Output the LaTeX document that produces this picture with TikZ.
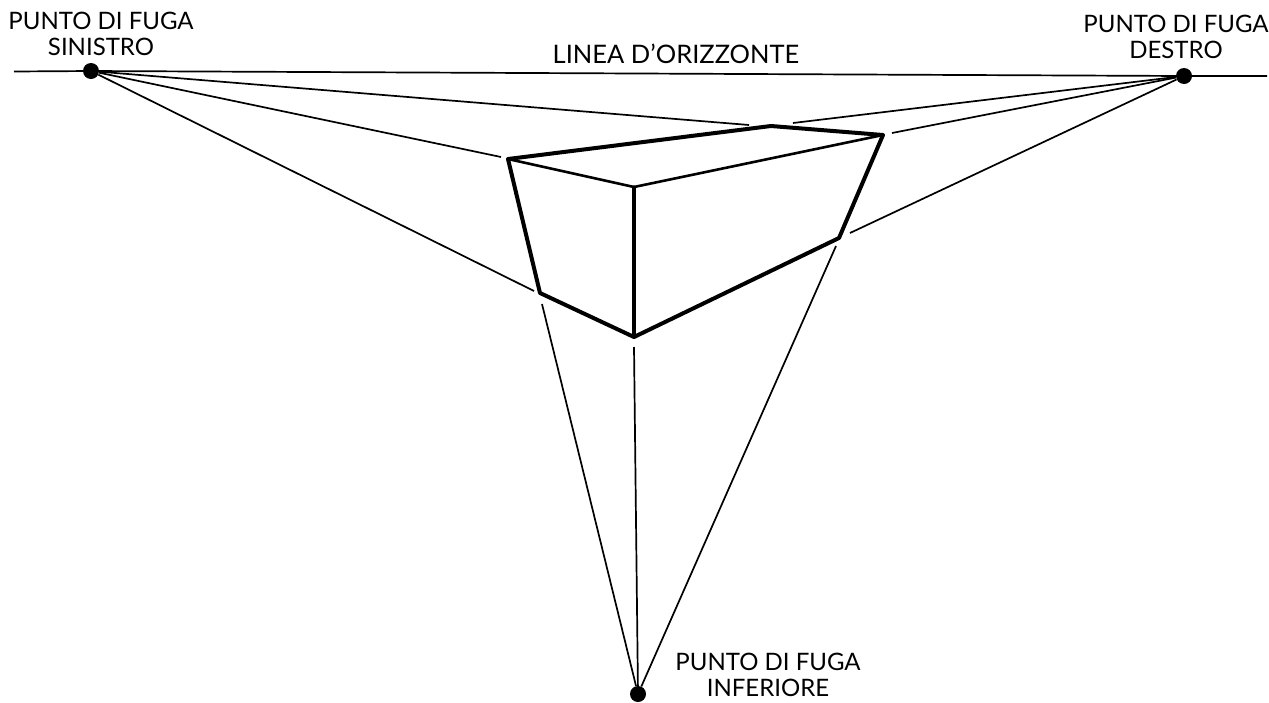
\documentclass[tikz,border=0pt]{standalone}
\usepackage{fontspec}
\setmainfont{Lato}
\tikzset{
    puntofuga/.style={circle,fill=black,inner sep=0pt,minimum size=16pt},
    etichetta/.style={align=center,inner sep=0pt,font=\fontsize{24}{26.5}\selectfont},
    fuga/.style={line width=1.7pt},
    spigolo/.style={line width=4pt,line join=round,line cap=round},
    spigolomedio/.style={line width=2.6pt,line join=round,line cap=round}
}

\begin{document}
\begin{tikzpicture}[x=1pt,y=-1pt]
    \useasboundingbox (0,0) rectangle (1269,702);

    \draw (91,71) node[puntofuga] (fugasx) {};
    \draw (1184,76) node[puntofuga] (fugadx) {};
    \draw (638,694) node[puntofuga] (fugainf) {};

    \draw (101,34) node[etichetta] (labelsx) {PUNTO DI FUGA\\SINISTRO};
    \draw (1176,37) node[etichetta] (labeldx) {PUNTO DI FUGA\\DESTRO};
    \draw (768,675) node[etichetta] (labelinf) {PUNTO DI FUGA\\INFERIORE};
    \draw (676,54) node[etichetta,font=\fontsize{25.5}{26.5}\selectfont] (labeloriz) {LINEA D'ORIZZONTE};

    \coordinate (orizsx) at (14,71.5);
    \coordinate (orizdx) at (1267,76);

    \coordinate (altosx) at (508,159);
    \coordinate (altoretro) at (771,126);
    \coordinate (altodx) at (883,135);
    \coordinate (altofronte) at (634,187);
    \coordinate (bassofronte) at (634,337);
    \coordinate (bassosx) at (540,293);
    \coordinate (bassodx) at (839,238);

    \coordinate (finesx1) at (749,125);
    \coordinate (finesx2) at (501,157);
    \coordinate (finesx3) at (534,291);
    \coordinate (finedx1) at (793,123);
    \coordinate (finedx2) at (892,133);
    \coordinate (finedx3) at (850,233);
    \coordinate (fineinf1) at (542,304);
    \coordinate (fineinf2) at (634,347);
    \coordinate (fineinf3) at (836,246);

    \draw[fuga] (orizsx) -- (fugasx) -- (fugadx) -- (orizdx);

    \draw[fuga] (fugasx) -- (finesx1);
    \draw[fuga] (fugasx) -- (finesx2);
    \draw[fuga] (fugasx) -- (finesx3);
    \draw[fuga] (fugadx) -- (finedx1);
    \draw[fuga] (fugadx) -- (finedx2);
    \draw[fuga] (fugadx) -- (finedx3);
    \draw[fuga] (fugainf) -- (fineinf1);
    \draw[fuga] (fugainf) -- (fineinf2);
    \draw[fuga] (fugainf) -- (fineinf3);

    \draw[spigolomedio] (altosx) -- (altofronte) -- (altodx);
    \draw[spigolomedio,line width=3.2pt] (altofronte) -- (bassofronte);
    \draw[spigolo] (altosx) -- (altoretro) -- (altodx) -- (bassodx) -- (bassofronte) -- (bassosx) -- cycle;
\end{tikzpicture}
\end{document}
